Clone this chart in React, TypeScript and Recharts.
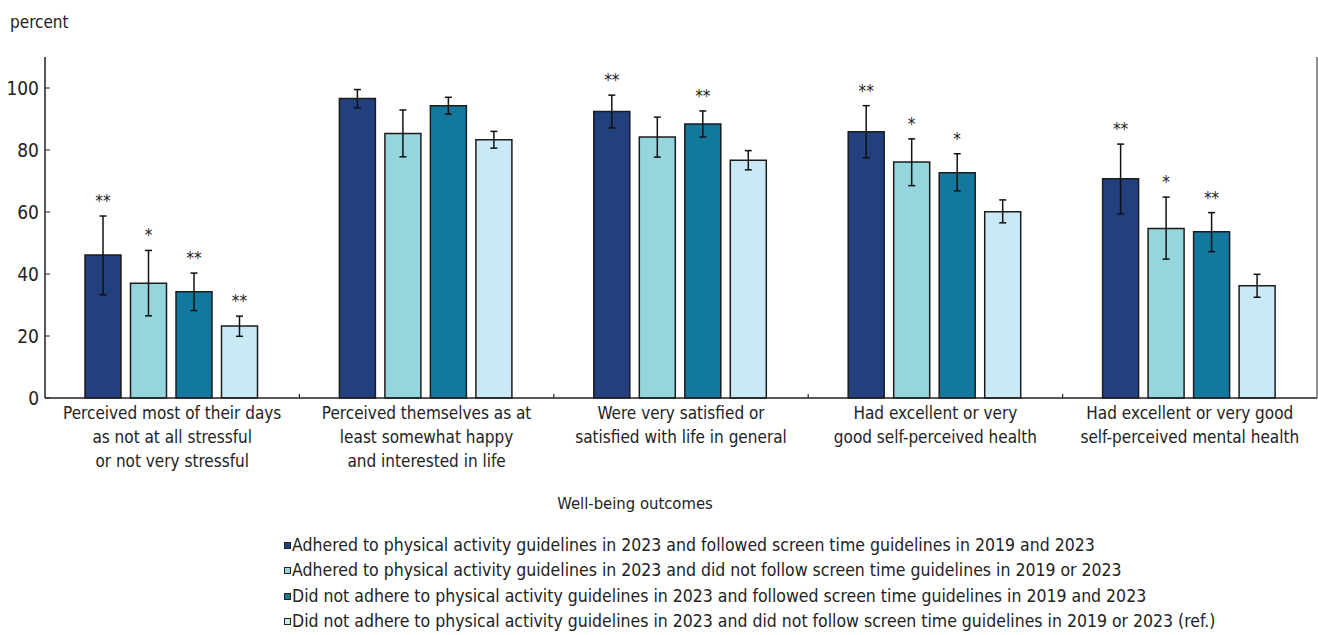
import React from 'react';
import { BarChart, Bar, XAxis, YAxis, ErrorBar, LabelList } from 'recharts';

// outcome categories, one entry per wrapped label line
const outcomes = [
  ['Perceived most of their days', 'as not at all stressful', 'or not very stressful'],
  ['Perceived themselves as at', 'least somewhat happy', 'and interested in life'],
  ['Were very satisfied or', 'satisfied with life in general'],
  ['Had excellent or very', 'good self-perceived health'],
  ['Had excellent or very good', 'self-perceived mental health'],
];

const yTicks = [0, 20, 40, 60, 80, 100];

// adhered to PA, followed screen time
const adhFollow = [46.1, 96.6, 92.4, 85.9, 70.7];
const adhFollowLow = [33.3, 93.6, 87.1, 77.5, 59.4];
const adhFollowHigh = [58.7, 99.5, 97.7, 94.3, 81.9];
const adhFollowSig = ['**', '', '**', '**', '**'];

// adhered to PA, did not follow screen time
const adhNoFollow = [37.0, 85.3, 84.2, 76.1, 54.7];
const adhNoFollowLow = [26.5, 77.8, 77.7, 68.5, 44.8];
const adhNoFollowHigh = [47.6, 92.9, 90.6, 83.6, 64.8];
const adhNoFollowSig = ['*', '', '', '*', '*'];

// did not adhere to PA, followed screen time
const noAdhFollow = [34.3, 94.3, 88.4, 72.7, 53.6];
const noAdhFollowLow = [28.2, 91.6, 84.2, 66.8, 47.2];
const noAdhFollowHigh = [40.3, 97.0, 92.6, 78.8, 59.8];
const noAdhFollowSig = ['**', '', '**', '*', '**'];

// did not adhere, did not follow (reference group)
const noAdhNoFollow = [23.2, 83.3, 76.7, 60.1, 36.2];
const noAdhNoFollowLow = [19.9, 80.6, 73.6, 56.5, 32.5];
const noAdhNoFollowHigh = [26.4, 86.0, 79.8, 63.9, 39.9];
const noAdhNoFollowSig = ['**', '', '', '', ''];

const series = [
  {
    key: 's1',
    name: 'Adhered to physical activity guidelines in 2023 and followed screen time guidelines in 2019 and 2023',
    color: '#223f7e',
    values: adhFollow, low: adhFollowLow, high: adhFollowHigh, sig: adhFollowSig,
  },
  {
    key: 's2',
    name: 'Adhered to physical activity guidelines in 2023 and did not follow screen time guidelines in 2019 or 2023',
    color: '#94d5de',
    values: adhNoFollow, low: adhNoFollowLow, high: adhNoFollowHigh, sig: adhNoFollowSig,
  },
  {
    key: 's3',
    name: 'Did not adhere to physical activity guidelines in 2023 and followed screen time guidelines in 2019 and 2023',
    color: '#13789e',
    values: noAdhFollow, low: noAdhFollowLow, high: noAdhFollowHigh, sig: noAdhFollowSig,
  },
  {
    key: 's4',
    name: 'Did not adhere to physical activity guidelines in 2023 and did not follow screen time guidelines in 2019 or 2023 (ref.)',
    color: '#c9e8f8',
    values: noAdhNoFollow, low: noAdhNoFollowLow, high: noAdhNoFollowHigh, sig: noAdhNoFollowSig,
  },
];

const data = outcomes.map((lines, i) => {
  const row: Record<string, any> = { outcome: lines.join(' '), lines };
  series.forEach((s) => {
    row[s.key] = s.values[i];
    row[s.key + 'Err'] = [s.values[i] - s.low[i], s.high[i] - s.values[i]];
    row[s.key + 'High'] = s.high[i];
    row[s.key + 'Sig'] = s.sig[i];
  });
  return row;
});

const FONT = "'Liberation Sans Narrow', 'DejaVu Sans Condensed', 'Arial Narrow', sans-serif";
const INK = '#222';

// multi-line category label plus the small divider tick at the right edge of each band
function OutcomeTick(props: any) {
  const { x, y, payload, index, width, visibleTicksCount } = props;
  const lines: string[] = data[index]?.lines ?? [String(payload.value)];
  const half = typeof payload?.offset === 'number' && payload.offset > 0
    ? payload.offset
    : width / (2 * (visibleTicksCount || outcomes.length));
  return (
    <g>
      {index < outcomes.length - 1 && Number.isFinite(half) && (
        <line x1={x + half} x2={x + half} y1={y} y2={y - 4} stroke={INK} strokeWidth={1.2} />
      )}
      <text x={x} y={y} textAnchor="middle" fill={INK} fontSize={17} fontFamily={FONT}>
        {lines.map((l, i) => (
          <tspan key={i} x={x} dy={i === 0 ? 21 : 24}>
            {l}
          </tspan>
        ))}
      </text>
    </g>
  );
}

// significance stars sit above the upper end of the confidence interval
function sigLabel(key: string) {
  return (p: any) => {
    const { x, y, width, height, index, value } = p;
    if (!value) return null;
    const row = data[index];
    const v = row[key];
    const hi = row[key + 'High'];
    const hiY = y + height - (hi * height) / v;
    return (
      <text x={x + width / 2} y={hiY - 9} textAnchor="middle" fill={INK} fontSize={17} fontFamily={FONT}>
        {value}
      </text>
    );
  };
}

export default function App() {
  return (
    <div style={{ position: 'absolute', left: 0, top: 0, width: 1318, height: 635, fontFamily: FONT, color: INK, background: '#fff' }}>
      <div style={{ position: 'absolute', left: 10, top: 12, fontSize: 17, lineHeight: '20px' }}>percent</div>
      <BarChart
        width={1318}
        height={635}
        data={data}
        margin={{ top: 57, right: 0, left: 0, bottom: 126 }}
        barCategoryGap={40}
        barGap={9.5}
      >
        <XAxis
          dataKey="outcome"
          height={111}
          interval={0}
          tickSize={0}
          tickMargin={0}
          tick={<OutcomeTick />}
          axisLine={{ stroke: INK, strokeWidth: 1.5 }}
          label={{ value: 'Well-being outcomes', position: 'insideBottom', offset: 0, dx: -46, fill: INK, fontSize: 16.5 }}
        />
        <XAxis xAxisId="top" orientation="top" dataKey="outcome" height={0} tick={false} tickLine={false} axisLine={{ stroke: INK, strokeWidth: 1.3 }} />
        <YAxis
          domain={[0, 110]}
          ticks={yTicks}
          width={45}
          tickSize={-5}
          tickMargin={11}
          axisLine={{ stroke: INK, strokeWidth: 1.5 }}
          tickLine={{ stroke: INK }}
          tick={{ fill: INK, fontSize: 19 }}
        />
        <YAxis yAxisId="right" orientation="right" width={1} domain={[0, 110]} tick={false} tickLine={false} axisLine={{ stroke: '#555', strokeWidth: 1.3 }} />
        {series.map((s) => (
          <Bar key={s.key} dataKey={s.key} name={s.name} fill={s.color} stroke="#1c1c1c" strokeWidth={1.5} isAnimationActive={false}>
            <ErrorBar dataKey={s.key + 'Err'} direction="y" width={3.5} stroke="#111" strokeWidth={1.5} />
            <LabelList dataKey={s.key + 'Sig'} content={sigLabel(s.key)} />
          </Bar>
        ))}
      </BarChart>
      <div style={{ position: 'absolute', left: 284, top: 533, fontSize: 17.5, lineHeight: '25.3px' }}>
        {series.map((s) => (
          <div key={s.key} style={{ display: 'flex', alignItems: 'center', whiteSpace: 'nowrap' }}>
            <span style={{ display: 'inline-block', width: 5, height: 5, border: `1px solid ${INK}`, background: s.color, marginRight: 1 }} />
            {s.name}
          </div>
        ))}
      </div>
    </div>
  );
}
